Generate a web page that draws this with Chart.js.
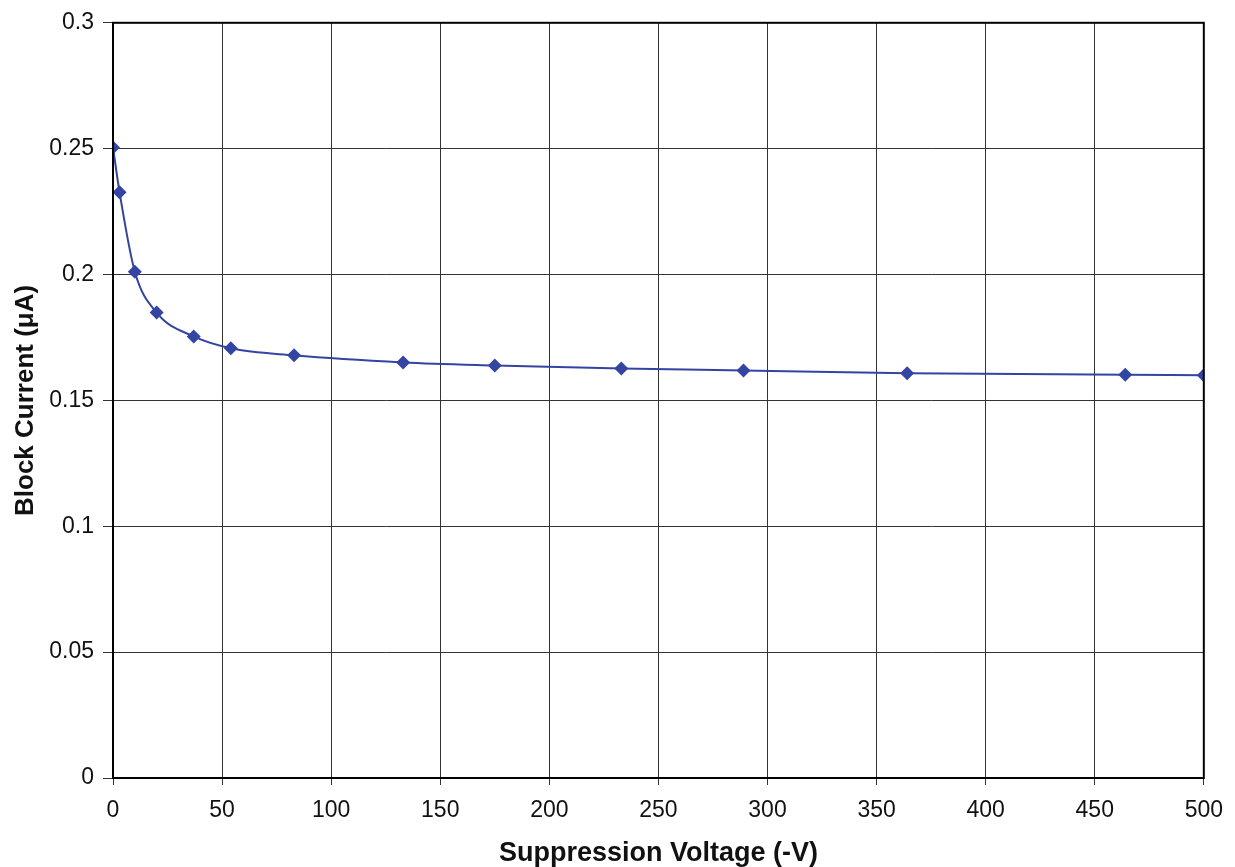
<!DOCTYPE html>
<html>
<head>
<meta charset="utf-8">
<script src="https://cdn.jsdelivr.net/npm/chart.js@4/dist/chart.umd.min.js"></script>
<style>
  html, body { margin: 0; padding: 0; background: #fff; }
  #wrap { width: 1235px; height: 867px; }
</style>
</head>
<body>
<div id="wrap"><canvas id="myChart" width="1235" height="867"></canvas></div>
<script>
// suppression voltage (-V) and block current (uA)
const voltage = [0, 3, 10, 20, 37, 54, 83, 133, 175, 233, 289, 364, 464, 500];
const current = [0.2505, 0.2327, 0.2011, 0.1849, 0.1754, 0.1707, 0.1679, 0.1651, 0.1639, 0.1627, 0.1619, 0.1608, 0.1602, 0.1600];
const xTicks = [0, 50, 100, 150, 200, 250, 300, 350, 400, 450, 500];
const yTicks = [0, 0.05, 0.1, 0.15, 0.2, 0.25, 0.3];

const points = voltage.map((v, i) => ({ x: v, y: current[i] }));
const lineColor = "#3444a2";

const ctx = document.getElementById("myChart").getContext("2d");
const myChart = new Chart(ctx, {
  type: "scatter",
  data: {
    datasets: [{
      data: points,
      showLine: true,
      cubicInterpolationMode: "monotone",
      borderColor: lineColor,
      borderWidth: 2,
      backgroundColor: lineColor,
      pointStyle: "rectRot",
      pointRadius: 7,
      pointBorderWidth: 0,
    }],
  },
  options: {
    responsive: false,
    animation: false,
    layout: { padding: { top: 18, right: 31, left: 0, bottom: 0 } },
    plugins: { legend: { display: false }, tooltip: { enabled: false } },
    scales: {
      x: {
        type: "linear",
        min: 0,
        max: 500,
        afterBuildTicks: (s) => { s.ticks = xTicks.map(v => ({ value: v })); },
        afterFit: (s) => { s.height = 89; },
        grid: { color: "#333", lineWidth: 1, tickLength: 7, drawTicks: true },
        border: { color: "#000", width: 2 },
        ticks: {
          color: "#111",
          padding: 12,
          font: { family: "Liberation Sans, Arial", size: 23 },
          maxRotation: 0,
        },
        title: {
          display: true,
          text: "Suppression Voltage (-V)",
          color: "#111",
          padding: { top: 0, bottom: 0 },
          font: { family: "Liberation Sans, Arial", size: 27, weight: "bold", lineHeight: 1.0 },
        },
      },
      y: {
        min: 0,
        max: 0.3,
        afterBuildTicks: (s) => { s.ticks = yTicks.map(v => ({ value: v })); },
        afterFit: (s) => { s.width = 113; },
        grid: { color: "#333", lineWidth: 1, tickLength: 10 },
        border: { color: "#000", width: 2 },
        ticks: {
          color: "#111",
          padding: 9,
          font: { family: "Liberation Sans, Arial", size: 23 },
          callback: (v) => String(v),
        },
        title: {
          display: true,
          text: "Block Current (\u03bcA)",
          color: "#111",
          padding: { top: 10, bottom: 0 },
          font: { family: "Liberation Sans, Arial", size: 26, weight: "bold" },
        },
      },
    },
  },
  plugins: [{
    // closing frame on the top and right of the plot
    id: "frame",
    afterDraw(chart) {
      const a = chart.chartArea;
      const c = chart.ctx;
      c.save();
      c.strokeStyle = "#000";
      c.lineWidth = 2;
      c.strokeRect(a.left, a.top, a.right - a.left, a.bottom - a.top);
      c.restore();
    },
  }],
});
</script>
</body>
</html>
